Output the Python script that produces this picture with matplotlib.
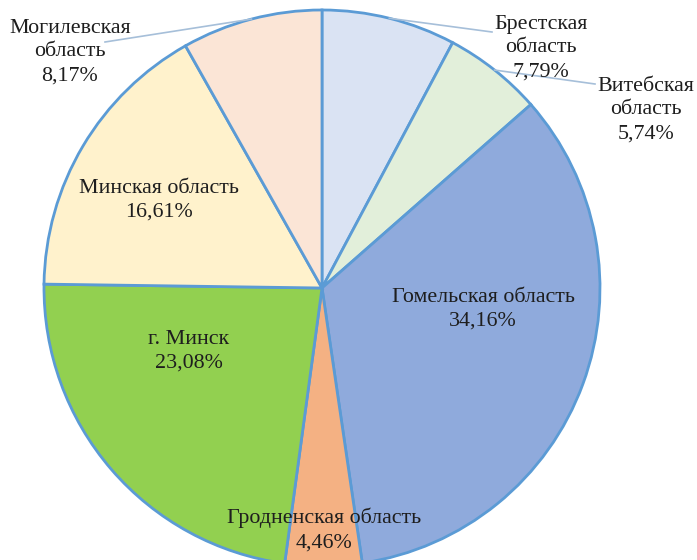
import numpy as np
import matplotlib
matplotlib.use("Agg")
import matplotlib.pyplot as plt

plt.rcParams['font.family'] = ['Liberation Serif', 'DejaVu Serif']

regions = ['Брестская\nобласть', 'Витебская\nобласть', 'Гомельская область',
           'Гродненская область', 'г. Минск', 'Минская область',
           'Могилевская\nобласть']
shares = [7.79, 5.74, 34.16, 4.46, 23.08, 16.61, 8.17]
colors = ['#dae3f3', '#e2efda', '#8faadc', '#f4b183', '#92d050', '#fff2cc', '#fbe5d6']

# label centres in pixel coords (x from left, y from top)
label_pos = [(541, 48), (646, 110), (483, 309), (324, 530), (189, 351), (159, 200), (70, 52)]
# leader line end near the label, None = label inside the slice
leader_end = [(492, 32), (595, 84), None, None, None, None, (105, 42)]

W, H = 697, 560
cx, cy, r = 322, 288, 278

fig = plt.figure(figsize=(W / 100, H / 100), dpi=100)
ax = fig.add_axes([0, 0, 1, 1])

wedges, _ = ax.pie(shares, colors=colors, startangle=90, counterclock=False,
                   center=(cx, H - cy), radius=r,
                   wedgeprops=dict(edgecolor='#5b9bd5', linewidth=2))
ax.set_xlim(0, W)
ax.set_ylim(0, H)
ax.set_aspect('equal')
ax.axis('off')

for i, w in enumerate(wedges):
    txt = regions[i] + '\n' + ('%.2f' % shares[i]).replace('.', ',') + '%'
    lx, ly = label_pos[i]
    ax.text(lx, H - ly, txt, ha='center', va='center', fontsize=15.8,
            linespacing=1.35, color='#1e1e1e')
    if leader_end[i] is not None:
        ang = np.deg2rad((w.theta1 + w.theta2) / 2)
        x0 = cx + r * np.cos(ang)
        y0 = (H - cy) + r * np.sin(ang)
        ex, ey = leader_end[i]
        ax.plot([x0, ex], [y0, H - ey], color='#a6bfd9', linewidth=1.2)

fig.savefig('out.png', dpi=100)
